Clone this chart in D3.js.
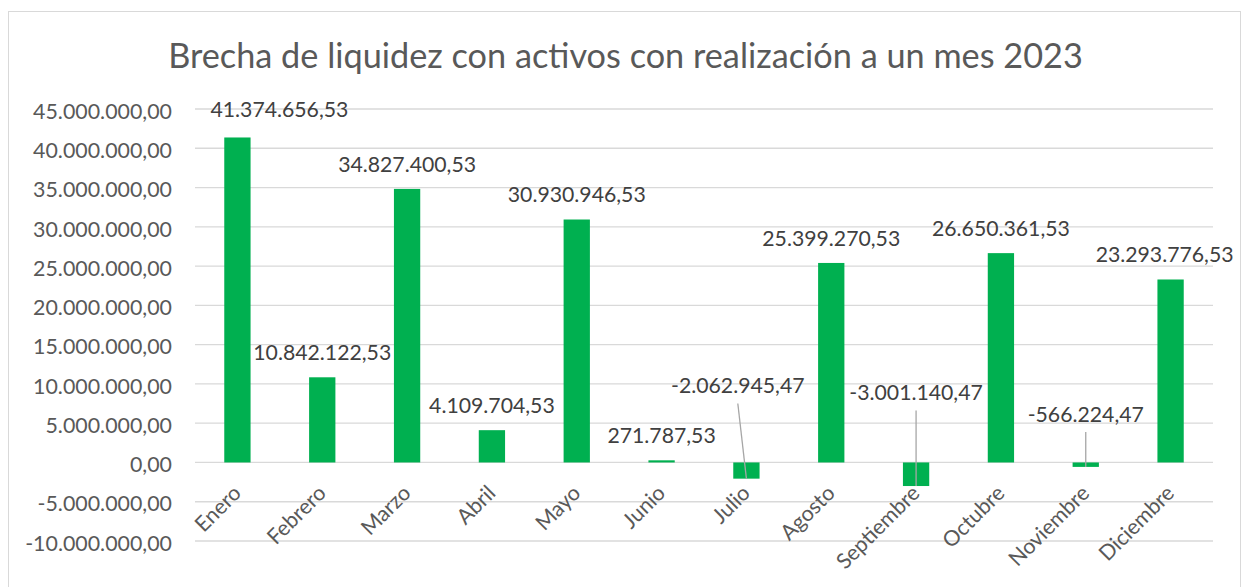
<!DOCTYPE html>
<html><head><meta charset="utf-8">
<script src="https://cdn.jsdelivr.net/npm/d3@7"></script>
<style>body{margin:0;background:#fff;} svg{display:block;}</style>
</head><body>
<svg id="chart" width="1243" height="587"></svg>
<script>
const title = "Brecha de liquidez con activos con realización a un mes 2023";
const months = ["Enero","Febrero","Marzo","Abril","Mayo","Junio","Julio","Agosto","Septiembre","Octubre","Noviembre","Diciembre"];
const values = [41374656.53, 10842122.53, 34827400.53, 4109704.53, 30930946.53, 271787.53, -2062945.47, 25399270.53, -3001140.47, 26650361.53, -566224.47, 23293776.53];
const yTickValues = [45000000, 40000000, 35000000, 30000000, 25000000, 20000000, 15000000, 10000000, 5000000, 0, -5000000, -10000000];
// manual label nudges (pixels) as in the original, and which labels have leader lines
const labelShiftX = [42, 0, 0, 0, 0, 0, -8.6, 0, 0, 0, 0, -6];
const labelShiftY = [-3.5, 0, 0, 0, 0, 0, -52, 0, -45, 0, -23.5, 0];
const leaderLines = [false, false, false, false, false, false, true, false, true, false, true, false];

const FONT = "Lato, 'Open Sans', sans-serif";
const svg = d3.select("#chart");
const loc = d3.formatLocale({decimal: ",", thousands: ".", grouping: [3], currency: ["", ""], minus: "-"});
const fmt = loc.format(",.2f");

// measure helper to fit font size to target pixel width
function fitSize(str, target) {
  const t = svg.append("text").attr("font-family", FONT).attr("font-size", 100).text(str);
  const w = t.node().getComputedTextLength();
  t.remove();
  return 100 * target / w;
}
const titleSize = fitSize(title, 915);
const tickSize = fitSize("45.000.000,00", 139);
const labelSize = fitSize("41.374.656,53", 138);
const cap = 0.72;

// border
svg.append("rect").attr("x", 8.5).attr("y", 11.5).attr("width", 1232).attr("height", 600)
  .attr("fill", "#fff").attr("stroke", "#D9D9D9").attr("stroke-width", 1);

const x = d3.scaleBand().domain(months).range([195, 1213]).paddingInner(0.69).paddingOuter(0.345);
const y = d3.scaleLinear().domain([-10000000, 45000000]).range([541, 109]);

// title
svg.append("text").attr("x", 625.5).attr("y", 68).attr("text-anchor", "middle")
  .attr("font-family", FONT).attr("font-size", titleSize).attr("fill", "#595959").text(title);

// gridlines
svg.append("g").selectAll("line").data(yTickValues).join("line")
  .attr("x1", 195).attr("x2", 1213)
  .attr("y1", d => y(d)).attr("y2", d => y(d))
  .attr("stroke", "#D9D9D9").attr("stroke-width", 1.3);

// y axis labels
const yAxis = d3.axisLeft(y).tickValues(yTickValues).tickFormat(fmt).tickSize(0).tickPadding(0);
const ya = svg.append("g").attr("transform", "translate(172,0)").call(yAxis);
ya.select(".domain").remove();
ya.selectAll("text").attr("font-family", FONT).attr("font-size", tickSize).attr("fill", "#595959")
  .attr("dy", null).attr("y", tickSize * cap / 2 + 1.5).attr("x", 0);

// bars
svg.append("g").selectAll("rect").data(values).join("rect")
  .attr("x", (d, i) => x(months[i]))
  .attr("width", x.bandwidth())
  .attr("y", d => y(Math.max(0, d)))
  .attr("height", d => Math.abs(y(d) - y(0)))
  .attr("fill", "#00B050");

// x labels rotated
const y0 = y(0);
svg.append("g").selectAll("text").data(months).join("text")
  .attr("transform", d => `translate(${x(d) + x.bandwidth() / 2 + 5},${y0 + 32}) rotate(-45)`)
  .attr("text-anchor", "end")
  .attr("font-family", FONT).attr("font-size", tickSize).attr("fill", "#595959")
  .text(d => d);

// data labels
const lx = (d, i) => x(months[i]) + x.bandwidth() / 2 + labelShiftX[i];
const lyc = (d, i) => y(Math.max(0, d)) - 25 + labelShiftY[i];
const leaderIdx = d3.range(values.length).filter(i => leaderLines[i]);
svg.append("g").selectAll("line").data(leaderIdx).join("line")
  .attr("x1", i => lx(values[i], i))
  .attr("y1", i => lyc(values[i], i) + 18)
  .attr("x2", i => x(months[i]) + x.bandwidth() / 2)
  .attr("y2", i => y(values[i]))
  .attr("stroke", "#A6A6A6").attr("stroke-width", 1.3);

svg.append("g").selectAll("text").data(values).join("text")
  .attr("x", lx)
  .attr("y", (d, i) => lyc(d, i) + labelSize * cap / 2)
  .attr("text-anchor", "middle")
  .attr("font-family", FONT).attr("font-size", labelSize).attr("fill", "#404040")
  .text(d => fmt(d));
</script>
</body></html>
